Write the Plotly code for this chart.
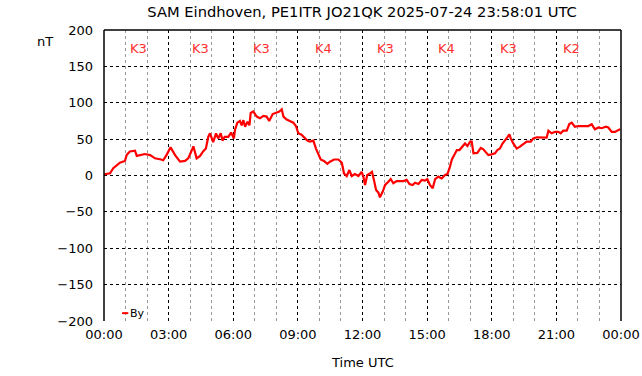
import plotly.graph_objects as go

hours = [0.00,0.28,0.43,0.59,0.74,0.97,1.05,1.20,1.44,1.52,1.75,1.90,2.14,2.37,2.65,2.75,2.90,3.09,3.30,3.53,3.76,3.91,4.02,4.15,4.30,4.46,4.60,4.73,4.84,4.92,5.07,5.20,5.30,5.42,5.50,5.60,5.77,5.90,6.03,6.08,6.19,6.31,6.39,6.47,6.55,6.66,6.75,6.81,6.93,7.09,7.24,7.40,7.55,7.67,7.83,7.99,8.14,8.25,8.33,8.48,8.64,8.79,8.91,9.02,9.17,9.33,9.44,9.56,9.72,9.84,9.95,10.06,10.21,10.37,10.49,10.68,10.88,11.04,11.14,11.27,11.39,11.50,11.65,11.81,11.96,12.04,12.12,12.22,12.35,12.44,12.53,12.63,12.74,12.81,12.94,13.05,13.20,13.31,13.43,13.59,13.74,13.90,14.05,14.18,14.33,14.44,14.60,14.75,14.90,15.01,15.13,15.26,15.37,15.52,15.68,15.83,15.94,16.04,16.15,16.25,16.38,16.50,16.61,16.76,16.87,17.00,17.07,17.15,17.33,17.49,17.61,17.73,17.84,17.99,18.15,18.26,18.38,18.50,18.61,18.72,18.82,18.88,19.00,19.16,19.31,19.47,19.62,19.81,19.93,20.09,20.32,20.55,20.63,20.78,20.94,21.09,21.20,21.32,21.48,21.60,21.71,21.86,22.02,22.25,22.48,22.64,22.79,22.95,23.10,23.30,23.41,23.57,23.72,23.88,23.97]
by_nT = [1.6,3,10,14,17.6,20,28,33,34,27,28,29.5,28,23.6,22,21,28,38.7,28,19,20,23.6,31,40,23.6,27,33,37,53,58,46,58,51,58,48,53,53,59,51,62.5,72.6,75,69,76,67,74,69,86,88,81,78.6,82,81,75,84.5,86,88,91,81,77,75,72.6,68,58,56,51,48,46.5,48,37,28,22,20,16,19,22,22,17.6,3,-0.7,7.5,-0.7,2,-0.7,5,-1.6,-13,0.7,3,5,-6,-20,-23.6,-30,-22,-13,-8.5,-4.8,-10.7,-7.6,-7.6,-7.6,-6,-11.7,-13,-10,-11.7,-6,-7,-5,-13,-17.6,-5,-1.6,-4,0.7,2,10,22,28,35,35,38.7,44,40.5,46.5,46.5,30.5,31,38,36,31,28,29,30.5,35,37,44,49,52.5,56.6,51,44,37,39.6,43,46.5,46.5,51,52.5,52,52,61.6,58,60,60,58,61.6,61.6,70.8,72.6,67,68,68,68,70.4,63.5,66,65,67,66,60,60,62.5,63.5]

tick_hours = [0, 3, 6, 9, 12, 15, 18, 21, 24]
tick_labels = ["00:00", "03:00", "06:00", "09:00", "12:00", "15:00", "18:00", "21:00", "00:00"]
k_labels = ["K3", "K3", "K3", "K4", "K3", "K4", "K3", "K2"]
k_hours = [1.58, 4.46, 7.33, 10.21, 13.05, 15.92, 18.80, 21.68]

FONT = "DejaVu Sans"

fig = go.Figure()
fig.add_trace(go.Scatter(x=hours, y=by_nT, mode="lines", name="By",
                         line=dict(color="#ff0000", width=2.2), showlegend=False))

for xc, lab in zip(k_hours, k_labels):
    fig.add_annotation(x=xc, y=174, xref="x", yref="y", text=lab, showarrow=False,
                       xanchor="center", font=dict(family=FONT, size=13, color="#ff3030"))

# legend (manual, small)
fig.add_shape(type="line", xref="paper", yref="paper", x0=0.035, x1=0.047, y0=0.027, y1=0.027,
              line=dict(color="#ff0000", width=2))
fig.add_annotation(x=0.047, y=0.027, xref="paper", yref="paper", text="By", showarrow=False,
                   xanchor="left", yanchor="middle", font=dict(family=FONT, size=11, color="black"))

# frame: left, top, right
for x0, x1, y0, y1 in [(0, 0, 0, 1), (0, 1, 1, 1), (1, 1, 0, 1)]:
    fig.add_shape(type="line", xref="paper", yref="paper", x0=x0, x1=x1, y0=y0, y1=y1,
                  line=dict(color="black", width=1.5))

fig.add_annotation(x=-0.114, y=0.962, xref="paper", yref="paper", text="nT", showarrow=False,
                   xanchor="center", yanchor="middle", font=dict(family=FONT, size=13, color="black"))
fig.add_annotation(x=0.5, y=-0.141, xref="paper", yref="paper", text="Time UTC", showarrow=False,
                   xanchor="center", yanchor="middle", font=dict(family=FONT, size=13, color="black"))

fig.update_layout(
    width=642, height=376,
    margin=dict(l=104, r=21, t=30, b=55),
    paper_bgcolor="white", plot_bgcolor="white",
    font=dict(family=FONT, size=13, color="black"),
    title=dict(text="SAM Eindhoven, PE1ITR JO21QK 2025-07-24 23:58:01 UTC",
               x=0.564, xanchor="center", y=0.968, yanchor="middle",
               font=dict(family=FONT, size=14.7, color="black")),
    showlegend=False,
)
fig.update_xaxes(range=[0, 24], tickvals=tick_hours, ticktext=tick_labels, automargin=False,
                 showgrid=True, gridcolor="black", griddash="dot", gridwidth=1,
                 zeroline=False, showline=False, ticks="", ticklabelstandoff=4,
                 minor=dict(dtick=1, tick0=0, showgrid=True, gridcolor="#999999", griddash="dot", gridwidth=1))
fig.update_yaxes(range=[-200, 200], dtick=50, tick0=0, automargin=False,
                 showgrid=True, gridcolor="black", griddash="dot", gridwidth=1,
                 zeroline=False, showline=False, ticks="", ticklabelstandoff=10)

fig.write_html("out.html", config={"displayModeBar": False},
               post_script="document.body.style.margin='0';document.body.style.padding='0';")
